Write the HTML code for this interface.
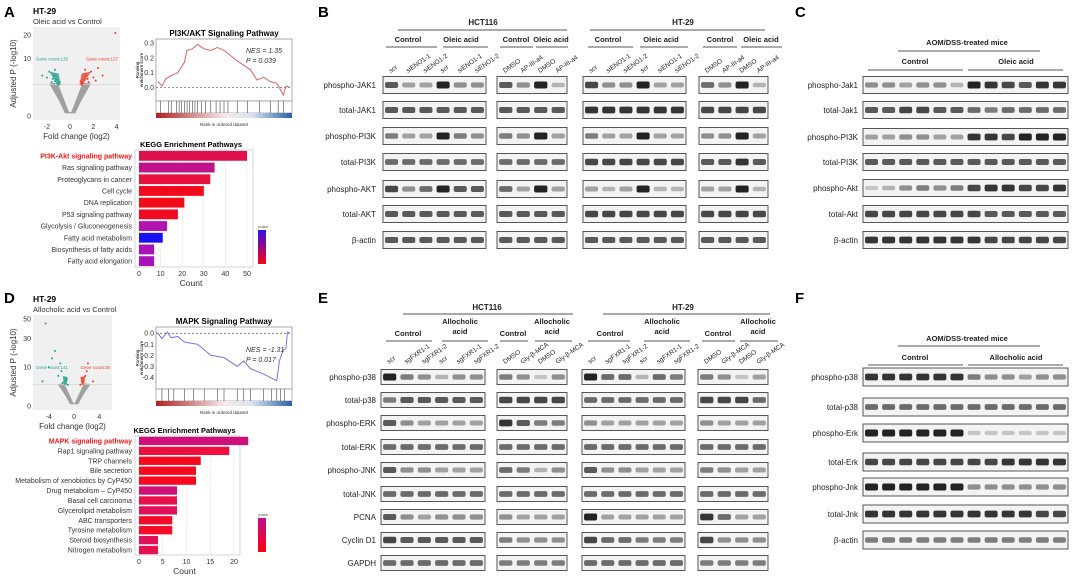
<!DOCTYPE html>
<html><head><meta charset="utf-8">
<style>
html,body{margin:0;padding:0;background:#fff;}
svg{display:block;font-family:"Liberation Sans",Arial,sans-serif;}
</style></head>
<body>
<svg id="fig" width="1080" height="580" viewBox="0 0 1080 580" xmlns="http://www.w3.org/2000/svg">
<g font-weight="bold" font-size="15" fill="#000">
<text x="4" y="17">A</text>
<text x="318" y="17">B</text>
<text x="795" y="17">C</text>
<text x="4" y="303">D</text>
<text x="318" y="303">E</text>
<text x="795" y="303">F</text>
</g>
<g id="layer"></g>
</svg>
<script>
// ---- KEGG data ----
const keggACats=["PI3K-Akt signaling pathway","Ras signaling pathway","Proteoglycans in cancer","Cell cycle","DNA replication","P53 signaling pathway","Glycolysis / Gluconeogenesis","Fatty acid metabolism","Biosynthesis of  fatty acids","Fatty acid elongation"];
const keggAVals=[50,35,33,30,21,18,13,11,7,7];
const keggAColors=["#e0104f","#c0128a","#e8103e","#f5081c","#f50a1a","#f00a22","#b212b0","#1a10f0","#a812b8","#a812b8"];
const keggATicks=[0,10,20,30,40,50];
const keggDCats=["MAPK signaling pathway","Rap1 signaling pathway","TRP channels","Bile secretion","Metabolism of xenobiotics by CyP450","Drug metabolism \u2013 CyP450","Basal cell carcinoma","Glycerolipid metabolism","ABC transporters","Tyrosine metabolism","Steroid biosynthesis","Nitrogen metabolism"];
const keggDVals=[23,19,13,12,12,8,8,8,7,7,4,4];
const keggDColors=["#d0107a","#f01040","#fa0820","#fa0820","#fa0820","#d0107a","#e8104a","#e01058","#f50a28","#f50a28","#e0105a","#e8104c"];
const keggDTicks=[0,5,10,15,20];
// ---- GSEA data ----
const gseaAx=[0,0.03,0.06,0.1,0.15,0.2,0.22,0.26,0.3,0.35,0.4,0.45,0.5,0.6,0.7,0.75,0.8,0.85,0.9,0.95,0.97,1];
const gseaAy=[0.04,0.01,0.06,0.08,0.1,0.17,0.25,0.26,0.29,0.26,0.25,0.27,0.25,0.18,0.12,0.05,0.07,0.04,0.03,-0.05,0.01,0.0];
const gseaATicks=[0.0,0.1,0.2,0.3];
const gseaDx=[0,0.03,0.07,0.1,0.15,0.2,0.3,0.4,0.5,0.6,0.65,0.7,0.8,0.9,0.92,0.95,0.97,0.98,1];
const gseaDy=[0,-0.05,0.01,-0.04,-0.03,-0.08,-0.1,-0.2,-0.22,-0.3,-0.25,-0.32,-0.37,-0.43,-0.25,-0.15,-0.14,0.01,0.0];
const gseaDTicks=[0.0,-0.1,-0.2,-0.3,-0.4];
const hitsA=[0.02,0.08,0.1,0.14,0.16,0.18,0.2,0.22,0.24,0.26,0.28,0.3,0.33,0.36,0.4,0.44,0.47,0.5,0.53,0.6,0.68,0.77,0.85,0.91,0.95];
const hitsD=[0.03,0.08,0.12,0.2,0.27,0.35,0.45,0.5,0.6,0.65,0.7,0.8,0.86,0.9,0.93,0.96];

const NS="http://www.w3.org/2000/svg";
const L=document.getElementById('layer');
function mk(tag,attrs,parent){const e=document.createElementNS(NS,tag);for(const k in attrs)e.setAttribute(k,attrs[k]);(parent||L).appendChild(e);return e;}
function tx(x,y,s,attrs,parent){const e=mk('text',Object.assign({x:x,y:y},attrs||{}),parent);e.textContent=s;return e;}

// ---- KEGG bar chart ----
function kegg(cats,vals,cols,ticks,px0,pxMax,maxV,top,bot,title,hlColor,legTop){
  const g=mk('g',{});
  
  
  const xs=v=>px0+4+(v/maxV)*(pxMax-px0-4);
  mk('rect',{x:px0,y:top,width:pxMax+6-px0,height:bot-top,fill:'#fff',stroke:'#bbb','stroke-width':0.6},g);
  ticks.forEach(t=>{mk('line',{x1:xs(t),x2:xs(t),y1:top,y2:bot,stroke:'#e6e6e6','stroke-width':0.6},g);
    const lb=tx(xs(t),bot+9,String(t),{'font-size':7,'text-anchor':'middle',fill:'#333'},g);
    });
  const n=cats.length, step=(bot-top)/n;
  cats.forEach((c,i)=>{
    const cy=top+step*(i+0.5);
    const b=mk('rect',{x:xs(0),y:cy-step*0.42,width:xs(vals[i])-xs(0),height:step*0.84,fill:cols[i]},g);
    
    const l=tx(px0-3,cy+2.5,c,{'font-size':7,'text-anchor':'end',fill:i===0?hlColor:'#333','font-weight':i===0?'bold':'normal'},g);
    
  });
  const t=tx((px0+pxMax)/2,top-3,title,{'font-size':7.5,'font-weight':'bold','text-anchor':'middle'},g);
  
  const xt=tx((px0+pxMax)/2,bot+19,'Count',{'font-size':8.5,'text-anchor':'middle',fill:'#333'},g);
  
  const lg=mk('linearGradient',{id:'lg'+top,x1:0,y1:0,x2:0,y2:1},mk('defs',{},g));
  mk('stop',{offset:0,'stop-color':cols.includes('#1a10f0')?'#3010f0':'#c0108a'},lg);
  mk('stop',{offset:1,'stop-color':'#ff0010'},lg);
  tx(258,legTop-2,'pvalue',{'font-size':3.5,fill:'#555'},g);
  const lr=mk('rect',{x:258,y:legTop,width:8,height:34,fill:'url(#lg'+top+')'},g);
  
}
kegg(keggACats,keggAVals,keggAColors,keggATicks,135,247,50,150,267,'KEGG Enrichment Pathways','#f01818',230);
kegg(keggDCats,keggDVals,keggDColors,keggDTicks,135,234,20,436,555,'KEGG Enrichment Pathways','#f01818',518);

// ---- GSEA ----
function gsea(xsArr,ysArr,ticks,x0,x1,top,bot,yTopV,yBotV,title,color,nes,p,hits){
  const g=mk('g',{});
  
  
  const X=f=>x0+2+f*(x1-x0-4);
  const Y=v=>top+4+(yTopV-v)/(yTopV-yBotV)*(bot-top-10);
  mk('rect',{x:x0,y:top,width:x1-x0,height:bot-top,fill:'#fff',stroke:'#888','stroke-width':0.7},g);
  ticks.forEach(t=>{const l=tx(x0-2,Y(t)+2.5,t.toFixed(1),{'font-size':7,'text-anchor':'end',fill:'#333'},g);
    });
  mk('line',{x1:x0,x2:x1,y1:Y(0),y2:Y(0),stroke:'#555','stroke-dasharray':'2,2','stroke-width':0.7},g);
  let d='';xsArr.forEach((f,i)=>{d+=(i?'L':'M')+X(f).toFixed(1)+','+Y(ysArr[i]).toFixed(1);});
  const pl=mk('path',{d:d,fill:'none',stroke:color,'stroke-width':0.9},g);
  
  mk('rect',{x:x0,y:bot,width:x1-x0,height:12,fill:'#fff',stroke:'#888','stroke-width':0.6},g);
  hits.forEach(h=>mk('line',{x1:X(h),x2:X(h),y1:bot,y2:bot+12,stroke:'#222','stroke-width':0.5},g));
  const gr=mk('linearGradient',{id:'rg'+top,x1:0,y1:0,x2:1,y2:0},mk('defs',{},g));
  mk('stop',{offset:0,'stop-color':'#b02020'},gr);mk('stop',{offset:0.5,'stop-color':'#f4e8e8'},gr);
  mk('stop',{offset:0.7,'stop-color':'#dde6f0'},gr);mk('stop',{offset:1,'stop-color':'#2a5ea8'},gr);
  mk('rect',{x:x0,y:bot+12,width:x1-x0,height:5,fill:'url(#rg'+top+')'},g);
  tx((x0+x1)/2,bot+25,'Rank in ordered dataset',{'font-size':4.5,'text-anchor':'middle',fill:'#333'},g);
  const tt=tx((x0+x1)/2,top-3,title,{'font-size':8,'font-weight':'bold','text-anchor':'middle'},g);
  
  tx(x1-46,top+(nes[1]),nes[0],{'font-size':7,'font-style':'italic',fill:'#333'},g);
  tx(x1-46,top+(nes[1])+10,p,{'font-size':7,'font-style':'italic',fill:'#333'},g);
  const yl=mk('text',{x:0,y:0,'font-size':4.5,'text-anchor':'middle',transform:`translate(${x0-17},${(top+bot)/2}) rotate(-90)`},g);
  yl.textContent='Running';
  const yl2=mk('text',{x:0,y:0,'font-size':4.5,'text-anchor':'middle',transform:`translate(${x0-13},${(top+bot)/2}) rotate(-90)`},g);
  yl2.textContent='enrichment score';
}
gsea(gseaAx,gseaAy,gseaATicks,156,292,39,101,0.3,-0.05,'PI3K/AKT Signaling Pathway','#e05050',['NES = 1.35',14],'P = 0.039',hitsA);
gsea(gseaDx,gseaDy,gseaDTicks,156,292,327,389,0.02,-0.45,'MAPK Signaling Pathway','#6868e8',['NES = -1.31',25],'P = 0.017',hitsD);

// ---- Volcano plots ----
const volAUp=[[1.0,3],[1.2,4],[1.4,5],[1.6,3.5],[1.8,6],[2.0,4.5],[2.4,7],[1.1,3.3],[1.5,4.2],[2.2,3.8],[3.9,21],[2.8,5],[1.3,6.5],[0.9,3.6]];
const volADown=[[-1.0,3],[-1.2,4],[-1.4,5],[-1.6,3.5],[-1.8,6],[-2.0,4.5],[-2.4,5],[-1.1,3.3],[-1.5,4.2],[-1.3,3.7],[-1.3,6.5],[-0.9,3.5]];
const volDUp=[[1.0,3],[1.3,5],[1.5,4],[2.0,8],[2.2,12],[1.8,6],[3.0,4]];
const volDDown=[[-1.0,3],[-1.3,5],[-1.6,4],[-2.0,8],[-2.2,12],[-2.5,6],[-3,20],[-3.5,15],[-1.8,3.5],[-1.2,4.5],[-4,10],[-5,4],[-4.5,45]];
function volcano(up,down,x0,x1,top,bot,xmin,xmax,xticks,yticks,ymax,title,sub,gcL,gcR,spread){
  const g=mk('g',{});
  
  
  const X=v=>x0+(v-xmin)/(xmax-xmin)*(x1-x0);
  const Y=v=>bot-4-Math.sqrt(v)/Math.sqrt(ymax)*(bot-top-8);
  mk('rect',{x:x0,y:top,width:x1-x0,height:bot-top,fill:'#f0f0f0'},g);
  const s=spread;
  // gray V cloud (non-significant genes)
  mk('path',{d:`M${X(-s)},${Y(3.2)} L${X(-0.6*s)},${Y(3.4)} L${X(-0.1)},${Y(0.05)} L${X(0.1)},${Y(0.05)} L${X(0.6*s)},${Y(3.4)} L${X(s)},${Y(3.2)} L${X(0.5*s)},${Y(0.6)} L${X(0.25*s)},${Y(0.02)} L${X(-0.25*s)},${Y(0.02)} L${X(-0.5*s)},${Y(0.6)} Z`,fill:'#a0a0a0'},g);
  mk('line',{x1:x0,x2:x1,y1:Y(3),y2:Y(3),stroke:'#d0d0d0','stroke-width':0.6},g);
  up.forEach(p=>{const c=mk('circle',{cx:X(p[0]),cy:Y(p[1]),r:1,fill:'#e8402a'},g);});
  down.forEach(p=>{const c=mk('circle',{cx:X(p[0]),cy:Y(p[1]),r:1,fill:'#22a090'},g);});
  mk('path',{d:`M${X(-0.6*s)},${Y(3)} L${X(-1.8)},${Y(6)} L${X(-1.0)},${Y(5.5)} L${X(-0.45*s)},${Y(3)} Z`,fill:'#22a090',opacity:0.8},g);
  mk('path',{d:`M${X(0.6*s)},${Y(3)} L${X(1.8)},${Y(6)} L${X(1.0)},${Y(5.5)} L${X(0.45*s)},${Y(3)} Z`,fill:'#e8402a',opacity:0.8},g);
  xticks.forEach(t=>tx(X(t),bot+9,String(t),{'font-size':7,'text-anchor':'middle',fill:'#333'},g));
  yticks.forEach(t=>tx(x0-2,Y(t)+2.5,String(t),{'font-size':7,'text-anchor':'end',fill:'#333'},g));
  tx((x0+x1)/2,bot+19,'Fold change (log2)',{'font-size':8,'text-anchor':'middle',fill:'#333'},g);
  const yl=mk('text',{x:0,y:0,'font-size':8,'text-anchor':'middle',fill:'#333',transform:`translate(${x0-17},${(top+bot)/2}) rotate(-90)`},g);
  yl.textContent='Adjusted P (-log10)';
  tx(33,top-13,title,{'font-size':8.5,'font-weight':'bold'},g);
  tx(33,top-3,sub,{'font-size':7.5,fill:'#333'},g);
  tx(x0+3,Y(10)+2,gcL,{'font-size':4.5,fill:'#22a090'},g);
  tx(x1-2,Y(10)+2,gcR,{'font-size':4.5,fill:'#e8402a','text-anchor':'end'},g);
}
volcano(volAUp,volADown,33,120,27,120,-3.2,4.3,[-2,0,2,4],[0,10,20],22,'HT-29','Oleic acid vs Control','Gene count:135','Gene count:127',1.8);
volcano(volDUp,volDDown,33,112,315,410,-6.5,6,[-4,0,4],[0,10,30,50],50,'HT-29','Allocholic acid vs Control','Gene count:141','Gene count:36',2.6);

// ---- Western blots ----
function blot(x,y,w,h,ints,name){
  const g=mk('g',{});
  
  
  mk('rect',{x:x,y:y-h/2,width:w,height:h,fill:'#f3f3f3',stroke:'#444','stroke-width':0.9},g);
  const n=ints.length, lw=w/n;
  ints.forEach((v,i)=>{
    const b=mk('rect',{x:x+lw*i+lw*0.12,y:y-2-v*1.5,width:lw*0.76,height:4+v*3,rx:2,fill:'#111','fill-opacity':Math.min(0.92,0.12+v*0.8)},g);
    
  });
}
function rowLabel(x,y,s){const t=tx(x,y+3,s,{'font-size':8,'text-anchor':'end',fill:'#222'});}
function hdr(x,y,s,bold,size){const t=tx(x,y,s,{'font-size':size||7.5,'text-anchor':'middle','font-weight':bold?'bold':'normal',fill:'#222'});}
function ln(x1,x2,y){mk('line',{x1:x1,x2:x2,y1:y,y2:y,stroke:'#555','stroke-width':0.9});}
function lanes(x,w,labels,y){const lw=w/labels.length;labels.forEach((s,i)=>{const t=mk('text',{x:0,y:0,'font-size':6.5,fill:'#222',transform:`translate(${x+lw*(i+0.45)},${y}) rotate(-35)`});t.textContent=s;});}

// Panel B
const bRows=["phospho-JAK1","total-JAK1","phospho-PI3K","total-PI3K","phospho-AKT","total-AKT","\u03b2-actin"];
const bRowY=[85,110,136,162,189,214,240];
const bHCT1=[[0.7,0.3,0.3,1,0.4,0.4],[0.7,0.7,0.7,0.7,0.7,0.7],[0.5,0.3,0.3,1,0.5,0.4],[0.6,0.6,0.6,0.6,0.6,0.6],[0.8,0.4,0.6,1,0.7,0.7],[0.7,0.7,0.7,0.7,0.7,0.7],[0.7,0.7,0.7,0.7,0.7,0.7]];
const bHCT2=[[0.7,0.4,1,0.2],[0.7,0.7,0.7,0.7],[0.5,0.4,1,0.3],[0.6,0.6,0.6,0.6],[0.6,0.3,1,0.3],[0.7,0.7,0.7,0.7],[0.7,0.7,0.7,0.7]];
const bHT1=[[0.8,0.4,0.4,1,0.3,0.3],[0.9,0.9,0.9,0.9,0.9,0.9],[0.5,0.3,0.3,1,0.3,0.3],[0.8,0.8,0.8,0.8,0.8,0.8],[0.3,0.2,0.3,1,0.2,0.2],[0.8,0.8,0.8,0.8,0.8,0.8],[0.7,0.7,0.7,0.7,0.7,0.7]];
const bHT2=[[0.6,0.4,1,0.2],[0.8,0.8,0.8,0.8],[0.4,0.4,1,0.3],[0.7,0.7,0.9,0.7],[0.3,0.3,1,0.2],[0.8,0.8,0.8,0.8],[0.7,0.7,0.7,0.7]];
bRows.forEach((r,i)=>{rowLabel(376,bRowY[i],r);
  blot(383,bRowY[i],103,17,bHCT1[i],'blot-hct116-sieno1');blot(497,bRowY[i],70,17,bHCT2[i],'blot-hct116-ap3a4');
  blot(583,bRowY[i],103,17,bHT1[i],'blot-ht29-sieno1');blot(699,bRowY[i],69,17,bHT2[i],'blot-ht29-ap3a4');});
hdr(483,25,'HCT116',true,8);ln(398,567,30);hdr(683,25,'HT-29',true,8);ln(590,765,30);
hdr(408,42,'Control',true);ln(386,437,47);hdr(461,42,'Oleic acid',true);ln(443,488,47);
hdr(516,42,'Control',true);ln(500,533,47);hdr(551,42,'Oleic acid',true);ln(536,568,47);
hdr(608,42,'Control',true);ln(588,633,47);hdr(661,42,'Oleic acid',true);ln(640,688,47);
hdr(720,42,'Control',true);ln(703,737,47);hdr(761,42,'Oleic acid',true);ln(741,782,47);
lanes(383,103,['scr','siENO1-1','siENO1-2','scr','siENO1-1','siENO1-2'],73);
lanes(497,70,['DMSO','AP-III-a4','DMSO','AP-III-a4'],73);
lanes(583,103,['scr','siENO1-1','siENO1-2','scr','siENO1-1','siENO1-2'],73);
lanes(699,69,['DMSO','AP-III-a4','DMSO','AP-III-a4'],73);

// Panel C
const cRows=["phospho-Jak1","total-Jak1","phospho-PI3K","total-PI3K","phospho-Akt","total-Akt","\u03b2-actin"];
const cRowY=[85,110,137,162,188,214,240];
const cInts=[[0.4,0.4,0.3,0.4,0.4,0.2,1,0.9,0.8,0.7,0.9,0.9],[0.7,0.7,0.8,0.8,0.7,0.7,0.6,0.5,0.6,0.6,0.6,0.6],[0.3,0.3,0.4,0.4,0.3,0.3,0.9,0.9,0.8,1,1,1],[0.7,0.7,0.7,0.7,0.7,0.7,0.7,0.7,0.7,0.7,0.7,0.7],[0.1,0.2,0.4,0.5,0.4,0.5,0.8,0.9,0.9,0.8,0.8,0.9],[0.8,0.8,0.8,0.8,0.8,0.8,0.8,0.7,0.7,0.7,0.7,0.7],[0.9,0.9,0.9,0.9,0.9,0.9,0.9,0.8,0.8,0.8,0.8,0.8]];
cRows.forEach((r,i)=>{rowLabel(858,cRowY[i],r);blot(863,cRowY[i],205,17,cInts[i],'blot-aom-dss-oleic');});
hdr(967,45,'AOM/DSS-treated mice',true);ln(898,1040,51);
hdr(915,64,'Control',true);ln(868,963,70);hdr(1016,64,'Oleic acid',true);ln(968,1063,70);

// Panel E
const eRows=["phospho-p38","total-p38","phospho-ERK","total-ERK","phospho-JNK","total-JNK","PCNA","Cyclin D1","GAPDH"];
const eRowY=[377,400,423,447,470,494,517,540,563];
const eHCT1=[[1,0.5,0.4,0.2,0.4,0.4],[0.5,0.7,0.7,0.7,0.7,0.7],[0.7,0.4,0.3,0.3,0.3,0.3],[0.6,0.6,0.6,0.6,0.6,0.6],[0.7,0.4,0.4,0.3,0.3,0.3],[0.6,0.6,0.6,0.6,0.6,0.6],[0.7,0.4,0.3,0.4,0.4,0.4],[0.8,0.7,0.7,0.7,0.7,0.7],[0.6,0.6,0.6,0.6,0.6,0.6]];
const eHCT2=[[0.5,0.4,0.1,0.4],[0.8,0.8,0.8,0.8],[0.9,0.7,0.5,0.5],[0.6,0.6,0.6,0.6],[0.6,0.5,0.2,0.4],[0.6,0.6,0.6,0.6],[0.4,0.3,0.3,0.3],[0.5,0.4,0.4,0.4],[0.5,0.5,0.5,0.5]];
const eHT1=[[1,0.6,0.6,0.2,0.6,0.5],[0.6,0.6,0.6,0.6,0.6,0.6],[0.4,0.3,0.3,0.3,0.3,0.3],[0.6,0.6,0.6,0.6,0.6,0.6],[0.7,0.4,0.4,0.3,0.3,0.3],[0.6,0.6,0.6,0.6,0.6,0.6],[1,0.3,0.3,0.3,0.3,0.3],[0.8,0.6,0.6,0.5,0.5,0.5],[0.6,0.6,0.6,0.6,0.6,0.6]];
const eHT2=[[0.5,0.4,0.1,0.3],[0.8,0.8,0.8,0.6],[0.4,0.3,0.3,0.3],[0.6,0.6,0.6,0.6],[0.5,0.4,0.3,0.3],[0.6,0.6,0.6,0.6],[0.9,0.6,0.3,0.3],[0.8,0.4,0.4,0.4],[0.5,0.5,0.5,0.5]];
eRows.forEach((r,i)=>{rowLabel(376,eRowY[i],r);
  blot(381,eRowY[i],104,15,eHCT1[i],'blot-hct116-sgfxr1');blot(497,eRowY[i],70,15,eHCT2[i],'blot-hct116-glybmca');
  blot(582,eRowY[i],103,15,eHT1[i],'blot-ht29-sgfxr1');blot(698,eRowY[i],70,15,eHT2[i],'blot-ht29-glybmca');});
hdr(487,310,'HCT116',true,8);ln(403,573,314);hdr(683,310,'HT-29',true,8);ln(603,770,314);
hdr(408,336,'Control',true);ln(386,432,341);hdr(460,324,'Allocholic',true);hdr(460,334,'acid',true);ln(442,488,341);
hdr(513,336,'Control',true);ln(500,528,341);hdr(552,324,'Allocholic',true);hdr(552,334,'acid',true);ln(535,572,341);
hdr(610,336,'Control',true);ln(588,630,341);hdr(662,324,'Allocholic',true);hdr(662,334,'acid',true);ln(644,690,341);
hdr(718,336,'Control',true);ln(702,735,341);hdr(758,324,'Allocholic',true);hdr(758,334,'acid',true);ln(740,778,341);
lanes(381,104,['scr','sgFXR1-1','sgFXR1-2','scr','sgFXR1-1','sgFXR1-2'],364);
lanes(497,70,['DMSO','Gly-\u03b2-MCA','DMSO','Gly-\u03b2-MCA'],364);
lanes(582,103,['scr','sgFXR1-1','sgFXR1-2','scr','sgFXR1-1','sgFXR1-2'],364);
lanes(698,70,['DMSO','Gly-\u03b2-MCA','DMSO','Gly-\u03b2-MCA'],364);

// Panel F
const fRows=["phospho-p38","total-p38","phospho-Erk","total-Erk","phospho-Jnk","total-Jnk","\u03b2-actin"];
const fRowY=[377,407,433,462,487,514,540];
const fInts=[[0.9,0.9,0.9,0.9,0.9,0.9,0.5,0.4,0.4,0.3,0.4,0.4],[0.6,0.6,0.6,0.6,0.6,0.6,0.6,0.6,0.6,0.6,0.6,0.6],[1,1,1,1,1,1,0.1,0.1,0.1,0.1,0.1,0.1],[0.8,0.8,0.8,0.8,0.8,0.8,0.8,0.8,0.9,0.9,0.9,0.9],[1,1,1,1,1,1,0.4,0.4,0.4,0.4,0.4,0.4],[0.9,0.9,0.9,0.9,0.9,0.9,0.9,0.9,0.9,0.9,0.8,0.8],[0.5,0.5,0.5,0.5,0.5,0.5,0.5,0.5,0.5,0.5,0.5,0.5]];
fRows.forEach((r,i)=>{rowLabel(858,fRowY[i],r);blot(863,fRowY[i],205,18,fInts[i],'blot-aom-dss-allocholic');});
hdr(967,341,'AOM/DSS-treated mice',true);ln(898,1040,346);
hdr(915,360,'Control',true);ln(868,963,365);hdr(1016,360,'Allocholic acid',true);ln(968,1063,365);
</script>
</body></html>
